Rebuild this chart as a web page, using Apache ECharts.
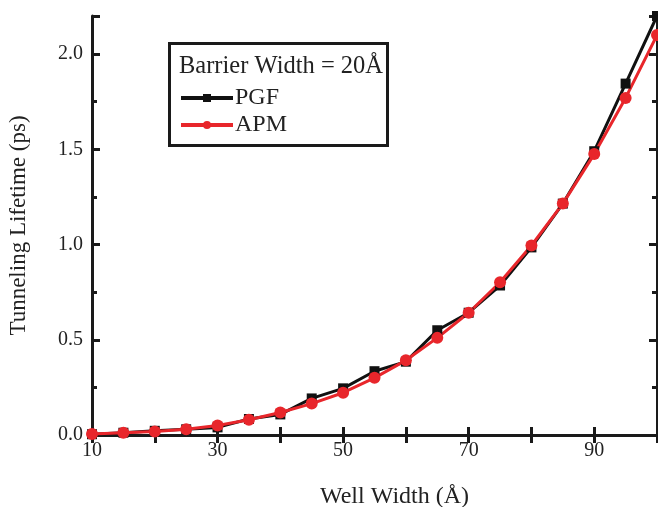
<!DOCTYPE html>
<html>
<head>
<meta charset="utf-8">
<script src="https://cdn.jsdelivr.net/npm/echarts@6/dist/echarts.min.js"></script>
<style>
  html, body { margin: 0; padding: 0; background: #fff; }
  #main { width: 658px; height: 507px; }
</style>
</head>
<body>
<div id="main"></div>
<script>
// well width (Å)
var wellWidth = [10, 15, 20, 25, 30, 35, 40, 45, 50, 55, 60, 65, 70, 75, 80, 85, 90, 95, 100];
// tunneling lifetime (ps)
var pgf = [0.004, 0.012, 0.022, 0.03, 0.04, 0.084, 0.108, 0.192, 0.245, 0.335, 0.385, 0.55, 0.642, 0.785, 0.985, 1.215, 1.49, 1.845, 2.2];
var apm = [0.005, 0.012, 0.018, 0.03, 0.05, 0.08, 0.118, 0.165, 0.222, 0.3, 0.392, 0.51, 0.642, 0.802, 0.995, 1.215, 1.475, 1.77, 2.1];
var legendTitle = 'Barrier Width = 20Å';

var serif = '"Liberation Serif", "DejaVu Serif", serif';

function pairs(ys) {
  return wellWidth.map(function (x, i) { return [x, ys[i]]; });
}

var chart = echarts.init(document.getElementById('main'));
var axisLine = { show: true, lineStyle: { color: '#1a1a1a', width: 3 } };

chart.setOption({
  animation: false,
  grid: { left: 92, right: 1, top: 16, bottom: 72, containLabel: false, outerBoundsMode: 'none' },
  graphic: [
    {
      type: 'rect', left: 168, top: 42, z: 10,
      shape: { width: 218, height: 102 },
      style: { fill: '#fff', stroke: '#1a1a1a', lineWidth: 3 }
    },
    {
      type: 'text', left: 179, top: 54, z: 11,
      style: { text: legendTitle, font: '24.5px ' + serif, fill: '#222' }
    }
  ],
  legend: {
    orient: 'vertical',
    left: 174,
    top: 81,
    itemGap: 3,
    itemWidth: 52,
    itemHeight: 10,
    z: 12,
    lineStyle: { width: 4 },
    textStyle: { fontFamily: serif, fontSize: 24, color: '#222', padding: [0, 0, 0, -3] },
    data: ['PGF', 'APM']
  },
  xAxis: [
    {
      type: 'value', min: 10, max: 100, interval: 10,
      position: 'bottom',
      name: 'Well Width (Å)', nameLocation: 'middle', nameGap: 50,
      nameTextStyle: { fontFamily: serif, fontSize: 24, color: '#222', padding: [0, 0, 0, 40] },
      axisLine: axisLine,
      axisTick: { inside: true, length: 8, lineStyle: { width: 3, color: '#1a1a1a' } },
      axisLabel: {
        fontFamily: serif, fontSize: 20, color: '#222', margin: 6,
        formatter: function (v) { return (v - 10) % 20 === 0 ? String(v) : ''; }
      },
      splitLine: { show: false }
    },
    {
      type: 'value', min: 10, max: 100, interval: 10,
      position: 'top',
      axisLine: axisLine,
      axisTick: { inside: true, length: 8, lineStyle: { width: 3, color: '#1a1a1a' } },
      axisLabel: { show: false },
      splitLine: { show: false }
    }
  ],
  yAxis: [
    {
      type: 'value', min: 0, max: 2.2, interval: 0.5,
      position: 'left',
      name: 'Tunneling Lifetime (ps)', nameLocation: 'middle', nameGap: 62,
      nameTextStyle: { fontFamily: serif, fontSize: 23, color: '#222' },
      axisLine: axisLine,
      axisTick: { inside: true, length: 8, lineStyle: { width: 3, color: '#1a1a1a' } },
      minorTick: { show: true, splitNumber: 2, length: 5, lineStyle: { width: 3, color: '#1a1a1a' } },
      axisLabel: {
        fontFamily: serif, fontSize: 20, color: '#222', margin: 9,
        formatter: function (v) { return v > 2.1 ? '' : v.toFixed(1); }
      },
      splitLine: { show: false }
    },
    {
      type: 'value', min: 0, max: 2.2, interval: 0.5,
      position: 'right',
      axisLine: axisLine,
      axisTick: { inside: true, length: 8, lineStyle: { width: 3, color: '#1a1a1a' } },
      minorTick: { show: true, splitNumber: 2, length: 5, lineStyle: { width: 3, color: '#1a1a1a' } },
      axisLabel: { show: false },
      splitLine: { show: false }
    }
  ],
  series: [
    {
      name: 'PGF', type: 'line', data: pairs(pgf),
      symbol: 'rect', symbolSize: 10,
      lineStyle: { color: '#111', width: 3 },
      itemStyle: { color: '#111' },
      clip: true
    },
    {
      name: 'APM', type: 'line', data: pairs(apm),
      symbol: 'circle', symbolSize: 12,
      lineStyle: { color: '#e8262b', width: 3 },
      itemStyle: { color: '#e8262b' },
      clip: true
    }
  ]
});
</script>
</body>
</html>
